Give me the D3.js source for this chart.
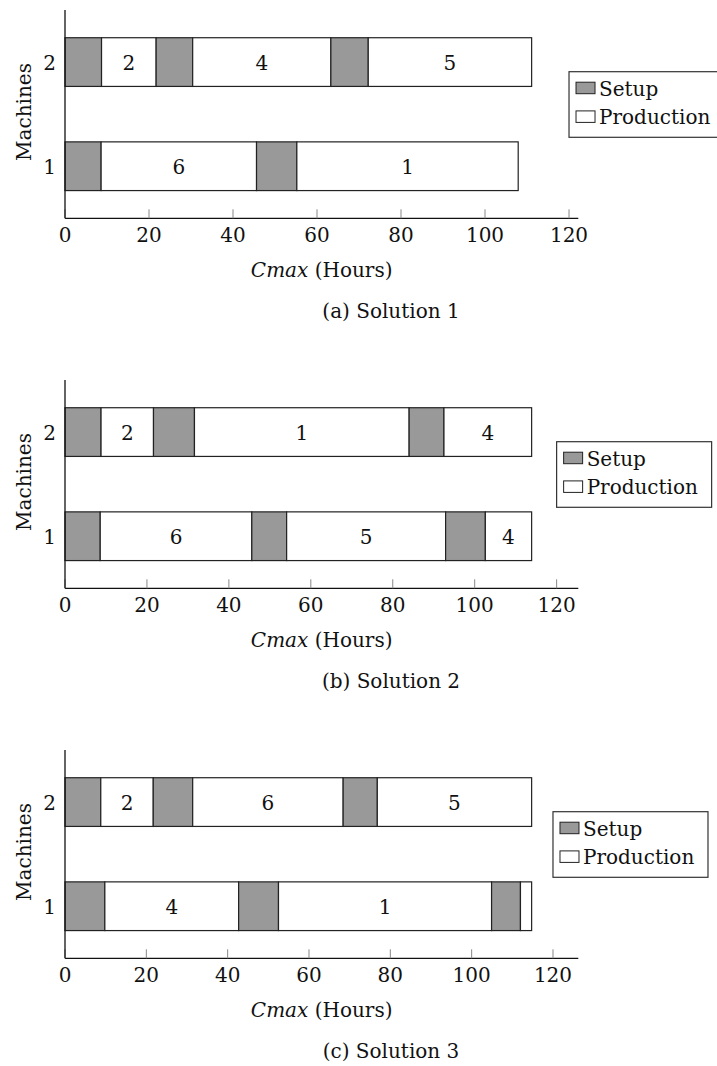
<!DOCTYPE html>
<html>
<head>
<meta charset="utf-8">
<script src="https://cdn.jsdelivr.net/npm/d3@7"></script>
<style>
  body { margin: 0; background: white; }
  svg { display: block; font-family: "DejaVu Serif", "Liberation Serif", serif; }
</style>
</head>
<body>
<div id="chart"></div>
<script>
// even index = setup, odd index = production; values are end times (hours)
const machines = [1, 2];
const xTicks = [0, 20, 40, 60, 80, 100, 120];
const captions = ["(a) Solution 1", "(b) Solution 2", "(c) Solution 3"];
const legendLabels = ["Setup", "Production"];

const s1m1End = [8.6, 45.6, 55.2, 107.9];
const s1m1Job = ["", "6", "", "1"];
const s1m2End = [8.7, 21.7, 30.4, 63.3, 72.2, 111.1];
const s1m2Job = ["", "2", "", "4", "", "5"];

const s2m1End = [8.6, 45.6, 54.1, 92.9, 102.6, 113.9];
const s2m1Job = ["", "6", "", "5", "", "4"];
const s2m2End = [8.8, 21.6, 31.6, 84.0, 92.5, 113.9];
const s2m2Job = ["", "2", "", "1", "", "4"];

const s3m1End = [9.8, 42.7, 52.5, 104.9, 112.0, 114.75];
const s3m1Job = ["", "4", "", "1", "", ""];
const s3m2End = [8.8, 21.7, 31.4, 68.4, 76.8, 114.75];
const s3m2Job = ["", "2", "", "6", "", "5"];

const solutions = [
  [{ m: 1, ends: s1m1End, jobs: s1m1Job }, { m: 2, ends: s1m2End, jobs: s1m2Job }],
  [{ m: 1, ends: s2m1End, jobs: s2m1Job }, { m: 2, ends: s2m2End, jobs: s2m2Job }],
  [{ m: 1, ends: s3m1End, jobs: s3m1Job }, { m: 2, ends: s3m2End, jobs: s3m2Job }]
];

const width = 717, height = 1066;
const fontSize = 20;
const setupColor = "#999999";

const svg = d3.select("#chart").append("svg")
  .attr("width", width)
  .attr("height", height);

solutions.forEach((sol, i) => {
  const oy = i * 370;
  const top = oy + 10, bottom = oy + 218.3;
  const left = 65, right = 578.3;

  const xmax = d3.max(sol, d => d3.max(d.ends));
  const x = d3.scaleLinear().domain([0, xmax * 1.1]).range([left, right]);
  const y = d3.scaleLinear().domain([0.5, 2.5]).range([bottom, top]);
  const barH = 48.7;

  const g = svg.append("g");

  // bars
  sol.forEach(row => {
    const segs = row.ends.map((e, k) => ({
      start: k === 0 ? 0 : row.ends[k - 1],
      end: e,
      setup: k % 2 === 0,
      job: row.jobs[k]
    }));
    const rg = g.append("g");
    rg.selectAll("rect")
      .data(segs)
      .join("rect")
      .attr("x", d => x(d.start))
      .attr("y", y(row.m) - barH / 2)
      .attr("width", d => x(d.end) - x(d.start))
      .attr("height", barH)
      .attr("fill", d => d.setup ? setupColor : "white")
      .attr("stroke", "#222")
      .attr("stroke-width", 1.2);
    rg.selectAll("text")
      .data(segs.filter(d => !d.setup && d.job))
      .join("text")
      .attr("x", d => (x(d.start) + x(d.end)) / 2)
      .attr("y", y(row.m) + 8)
      .attr("text-anchor", "middle")
      .style("font-size", fontSize + "px")
      .style("fill", "#111")
      .text(d => d.job);
  });

  // x axis
  const xAxis = g.append("g").attr("transform", `translate(0,${bottom})`);
  xAxis.append("line")
    .attr("x1", left).attr("x2", right)
    .attr("stroke", "#111").attr("stroke-width", 1.3);
  xAxis.selectAll(".tick")
    .data(xTicks)
    .join("line")
    .attr("x1", d => x(d)).attr("x2", d => x(d))
    .attr("y1", 0).attr("y2", -9)
    .attr("stroke", "#888").attr("stroke-width", 1);
  xAxis.selectAll("text")
    .data(xTicks)
    .join("text")
    .attr("x", d => x(d))
    .attr("y", 24)
    .attr("text-anchor", "middle")
    .style("font-size", fontSize + "px")
    .style("fill", "#111")
    .text(d => d);

  // y axis
  g.append("line")
    .attr("x1", left).attr("x2", left)
    .attr("y1", top).attr("y2", bottom)
    .attr("stroke", "#111").attr("stroke-width", 1.3);
  g.selectAll(".ylab")
    .data(machines)
    .join("text")
    .attr("class", "ylab")
    .attr("x", 56)
    .attr("y", d => y(d) + 8)
    .attr("text-anchor", "end")
    .style("font-size", fontSize + "px")
    .style("fill", "#111")
    .text(d => d);

  g.append("text")
    .attr("transform", `translate(31,${oy + 112}) rotate(-90)`)
    .attr("text-anchor", "middle")
    .style("font-size", fontSize + "px")
    .style("fill", "#111")
    .text("Machines");

  // x label
  const xl = g.append("text")
    .attr("x", (left + right) / 2)
    .attr("y", oy + 277)
    .attr("text-anchor", "middle")
    .style("font-size", fontSize + "px")
    .style("fill", "#111");
  xl.append("tspan").style("font-style", "italic").text("Cmax");
  xl.append("tspan").text(" (Hours)");

  // caption
  g.append("text")
    .attr("x", 391)
    .attr("y", oy + 318)
    .attr("text-anchor", "middle")
    .style("font-size", fontSize + "px")
    .style("fill", "#111")
    .text(captions[i]);

  // legend
  const lx = x(120), ly = oy + 71.7;
  const leg = g.append("g").attr("transform", `translate(${lx},${ly})`);
  leg.append("rect")
    .attr("width", 155).attr("height", 65.6)
    .attr("fill", "white")
    .attr("stroke", "#333").attr("stroke-width", 1.2);
  leg.selectAll(".sw")
    .data(legendLabels)
    .join("rect")
    .attr("class", "sw")
    .attr("x", 7)
    .attr("y", (d, k) => 10.5 + k * 28.7)
    .attr("width", 19).attr("height", 11.5)
    .attr("fill", (d, k) => k === 0 ? setupColor : "white")
    .attr("stroke", "#222").attr("stroke-width", 1);
  leg.selectAll(".lt")
    .data(legendLabels)
    .join("text")
    .attr("class", "lt")
    .attr("x", 30)
    .attr("y", (d, k) => 24 + k * 28.5)
    .style("font-size", fontSize + "px")
    .style("fill", "#111")
    .text(d => d);
});
</script>
</body>
</html>
